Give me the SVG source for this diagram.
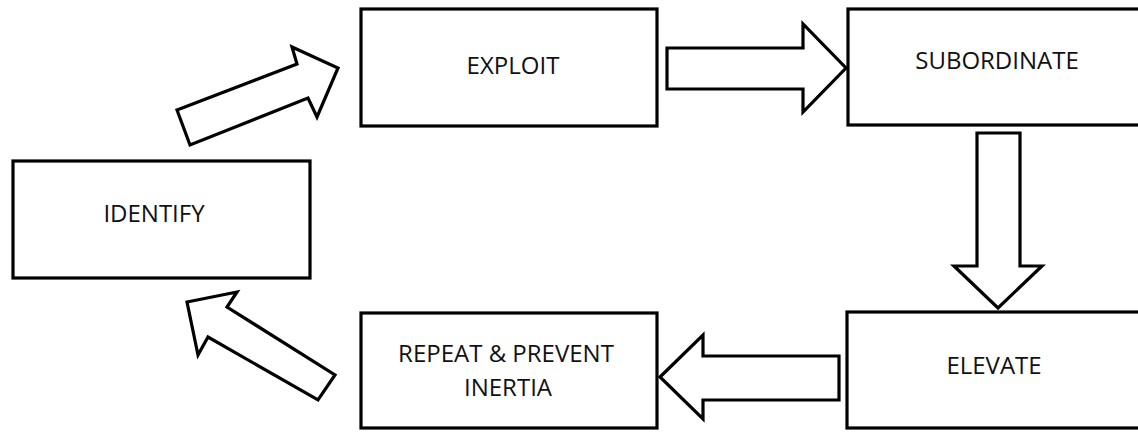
<svg xmlns="http://www.w3.org/2000/svg" width="1138" height="432" viewBox="0 0 1138 432">
<style>
.box{fill:#fff;stroke:#000;stroke-width:3.2}
.arrow{fill:#fff;stroke:#000;stroke-width:3.2;stroke-linejoin:miter}
.lbl{font-family:"Open Sans","Liberation Sans",sans-serif;font-size:24px;fill:#111;text-anchor:middle}
</style>
<rect width="1138" height="432" fill="#fff"/>
<g id="node-identify">
<rect class="box" x="13" y="161" width="297" height="117"/>
<text class="lbl" x="154" y="222">IDENTIFY</text>
</g>
<g id="node-exploit">
<rect class="box" x="361" y="9" width="296" height="117"/>
<text class="lbl" x="513" y="74">EXPLOIT</text>
</g>
<g id="node-subordinate">
<rect class="box" x="848" y="9" width="300" height="116"/>
<text class="lbl" x="997" y="69">SUBORDINATE</text>
</g>
<g id="node-elevate">
<rect class="box" x="847" y="312" width="300" height="116"/>
<text class="lbl" x="994" y="374">ELEVATE</text>
</g>
<g id="node-repeat">
<rect class="box" x="361" y="313" width="296" height="115"/>
<text class="lbl" x="506" y="362">REPEAT &amp; PREVENT</text>
<text class="lbl" x="508" y="396">INERTIA</text>
</g>
<g id="connectors">
<polygon class="arrow" points="177,110 297,64 292,47 338,68 317,117 308,98 190,145"/>
<polygon class="arrow" points="667,48 803,48 803,24 846,68 803,112 803,89 667,89"/>
<polygon class="arrow" points="977,133 1020,133 1020,266 1042,266 998,308 954,266 977,266"/>
<polygon class="arrow" points="660,377 703,335 703,356 839,356 839,400 703,400 703,419"/>
<polygon class="arrow" points="187,302 237,292 227,307 335,375 318,400 208,337 198,355"/>
</g>
</svg>
